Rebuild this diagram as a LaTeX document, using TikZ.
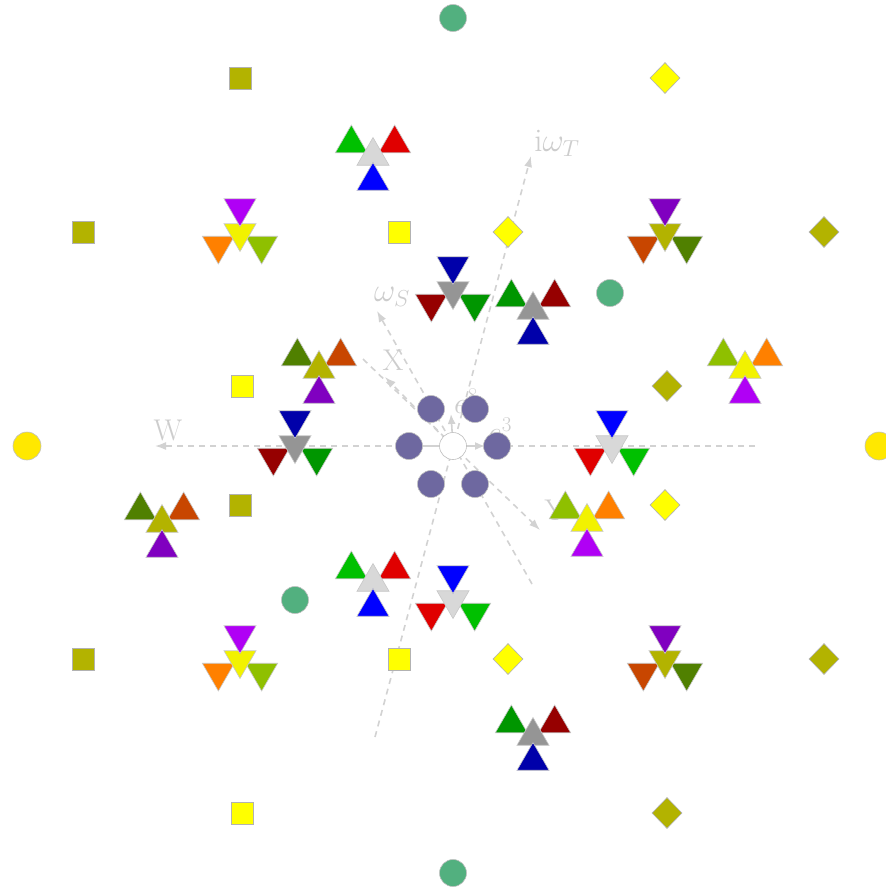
\RequirePackage{fix-cm}
\documentclass[tikz,border=0pt]{standalone}
\usetikzlibrary{shapes.geometric,arrows.meta}
\definecolor{lgray}{HTML}{D8D8D8}
\definecolor{mgray}{HTML}{959595}
\definecolor{greenA}{HTML}{00C000}
\definecolor{redA}{HTML}{E00000}
\definecolor{blueA}{HTML}{0000FF}
\definecolor{greenB}{HTML}{009600}
\definecolor{redB}{HTML}{960000}
\definecolor{blueB}{HTML}{0000AA}
\definecolor{yel}{HTML}{F2F200}
\definecolor{ygreen}{HTML}{8FC000}
\definecolor{orng}{HTML}{FF8000}
\definecolor{purpA}{HTML}{B000F5}
\definecolor{olive}{HTML}{B3B300}
\definecolor{dgreen}{HTML}{508000}
\definecolor{ored}{HTML}{C84600}
\definecolor{purpB}{HTML}{8000C0}
\definecolor{sqyel}{HTML}{FFFF00}
\definecolor{cyel}{HTML}{FFE800}
\definecolor{cgreen}{HTML}{52B07F}
\definecolor{cpurp}{HTML}{6E68A0}
\definecolor{axgray}{HTML}{D2D2D2}
\definecolor{lblgray}{HTML}{CDCDCD}
\begin{document}
\begin{tikzpicture}[x=1pt,y=-1pt,
  axisline/.style={draw=axgray, line width=1.6pt, dash pattern=on 6pt off 5pt},
  axarrow/.style={axisline, -{Latex[length=11pt,width=8pt]}},
  vecarrow/.style={draw=axgray, line width=1.6pt, -{Latex[length=10pt,width=8pt]}},
  lbl/.style={text=lblgray, font=\fontsize{30}{32}\selectfont, inner sep=0pt},
  lblm/.style={text=lblgray, font=\fontsize{33}{35}\selectfont, inner sep=0pt},
  tri/.style={regular polygon, regular polygon sides=3, minimum size=37pt, inner sep=0pt, outer sep=0pt, draw=black!22, line width=0.6pt, fill=#1},
  trd/.style={tri=#1, shape border rotate=180},
  sq/.style={rectangle, minimum size=22pt, inner sep=0pt, draw=black!30, line width=0.6pt, fill=#1},
  dia/.style={diamond, minimum width=30pt, minimum height=31pt, inner sep=0pt, draw=black!30, line width=0.6pt, fill=#1},
  dot/.style={circle, minimum size=27pt, inner sep=0pt, draw=black!25, line width=0.6pt, fill=#1},
  pics/upcl/.style n args={4}{code={
    \node[tri=#1] (-tl) at (-21.65,-12.5) {};
    \node[tri=#2] (-tr) at (21.65,-12.5) {};
    \node[tri=#3] (-m) at (0,0) {};
    \node[tri=#4] (-b) at (0,25) {};
  }},
  pics/dncl/.style n args={4}{code={
    \node[trd=#2] (-bl) at (-21.65,12.5) {};
    \node[trd=#3] (-br) at (21.65,12.5) {};
    \node[trd=#4] (-m) at (0,0) {};
    \node[trd=#1] (-t) at (0,-25) {};
  }}
]
\useasboundingbox (0,0) rectangle (886,889);
\fill[white] (0,0) rectangle (886,889);

% axis end points
\coordinate (O) at (453,446);
\coordinate (Wr) at (755,446);
\coordinate (Wl) at (155,446);
\coordinate (Tb) at (375,737);
\coordinate (Tt) at (531,156);
\coordinate (Sb) at (532,584);
\coordinate (St) at (377,311);
\coordinate (Ytl) at (363,359);
\coordinate (Ybr) at (540,530);
\coordinate (Xt) at (385,377);
\coordinate (E8) at (451,414);
\coordinate (E3) at (485,446);
\coordinate (Lw) at (420,446);

\draw[axarrow] (Wr) -- (Wl);
\draw[axarrow] (Tb) -- (Tt);
\draw[axarrow] (Sb) -- (St);
\draw[axarrow] (Ytl) -- (Ybr);
\draw[axarrow] (O) -- (Xt);
\draw[draw=axgray, line width=1.6pt] (O) -- (Lw);
\draw[vecarrow] (O) -- (E8);
\draw[vecarrow] (O) -- (E3);

% labels
\node[lbl] (lW) at (168,430) {W};
\node[lblm] (lT) at (557,143) {i$\omega_T$};
\node[lblm] (lS) at (392,297) {$\omega_S$};
\node[lbl] (lX) at (393,360) {X};
\node[lbl] (lY) at (555,510) {Y};
\node[lbl, anchor=base west] (le8) at (454,413) {$e^8$};
\node[lbl, anchor=base west] (le3) at (488,442) {$e^3$};

% center circles
\node[dot=cpurp] (p1) at (409,446) {};
\node[dot=cpurp] (p2) at (497,446) {};
\node[dot=cpurp] (p3) at (431,409) {};
\node[dot=cpurp] (p4) at (475,409) {};
\node[dot=cpurp] (p5) at (431,484) {};
\node[dot=cpurp] (p6) at (475,484) {};
\node[dot=white] (c0) at (453,446) {};

% green and yellow circles
\node[dot=cgreen] (g1) at (453,18) {};
\node[dot=cgreen] (g2) at (610,293) {};
\node[dot=cgreen] (g3) at (295,600) {};
\node[dot=cgreen] (g4) at (453,873) {};
\node[dot=cyel, minimum size=28pt] (y1) at (27,446) {};
\node[dot=cyel, minimum size=28pt] (y2) at (879,446) {};

% squares
\node[sq=olive] (s1) at (240,78) {};
\node[sq=olive] (s2) at (83,232) {};
\node[sq=olive] (s3) at (240,505) {};
\node[sq=olive] (s4) at (83,659) {};
\node[sq=sqyel] (s5) at (399,232) {};
\node[sq=sqyel] (s6) at (242,386) {};
\node[sq=sqyel] (s7) at (399,659) {};
\node[sq=sqyel] (s8) at (242,813) {};

% diamonds
\node[dia=sqyel] (d1) at (665,78) {};
\node[dia=sqyel] (d2) at (508,232) {};
\node[dia=sqyel] (d3) at (665,505) {};
\node[dia=sqyel] (d4) at (508,659) {};
\node[dia=olive] (d5) at (824,232) {};
\node[dia=olive] (d6) at (667,386) {};
\node[dia=olive] (d7) at (824,659) {};
\node[dia=olive] (d8) at (667,813) {};

% triangle clusters
\pic (u1) at (373,156) {upcl={greenA}{redA}{lgray}{blueA}};
\pic (u7) at (373,582) {upcl={greenA}{redA}{lgray}{blueA}};
\pic (u2) at (533,310) {upcl={greenB}{redB}{mgray}{blueB}};
\pic (u8) at (533,736) {upcl={greenB}{redB}{mgray}{blueB}};
\pic (u3) at (319,369) {upcl={dgreen}{ored}{olive}{purpB}};
\pic (u5) at (162,523) {upcl={dgreen}{ored}{olive}{purpB}};
\pic (u4) at (745,369) {upcl={ygreen}{orng}{yel}{purpA}};
\pic (u6) at (587,522) {upcl={ygreen}{orng}{yel}{purpA}};

\pic (n1) at (240,233) {dncl={purpA}{orng}{ygreen}{yel}};
\pic (n7) at (240,660) {dncl={purpA}{orng}{ygreen}{yel}};
\pic (n2) at (665,233) {dncl={purpB}{ored}{dgreen}{olive}};
\pic (n8) at (665,660) {dncl={purpB}{ored}{dgreen}{olive}};
\pic (n3) at (453,291) {dncl={blueB}{redB}{greenB}{mgray}};
\pic (n4) at (295,445) {dncl={blueB}{redB}{greenB}{mgray}};
\pic (n5) at (612,445) {dncl={blueA}{redA}{greenA}{lgray}};
\pic (n6) at (453,600) {dncl={blueA}{redA}{greenA}{lgray}};
\end{tikzpicture}
\end{document}
